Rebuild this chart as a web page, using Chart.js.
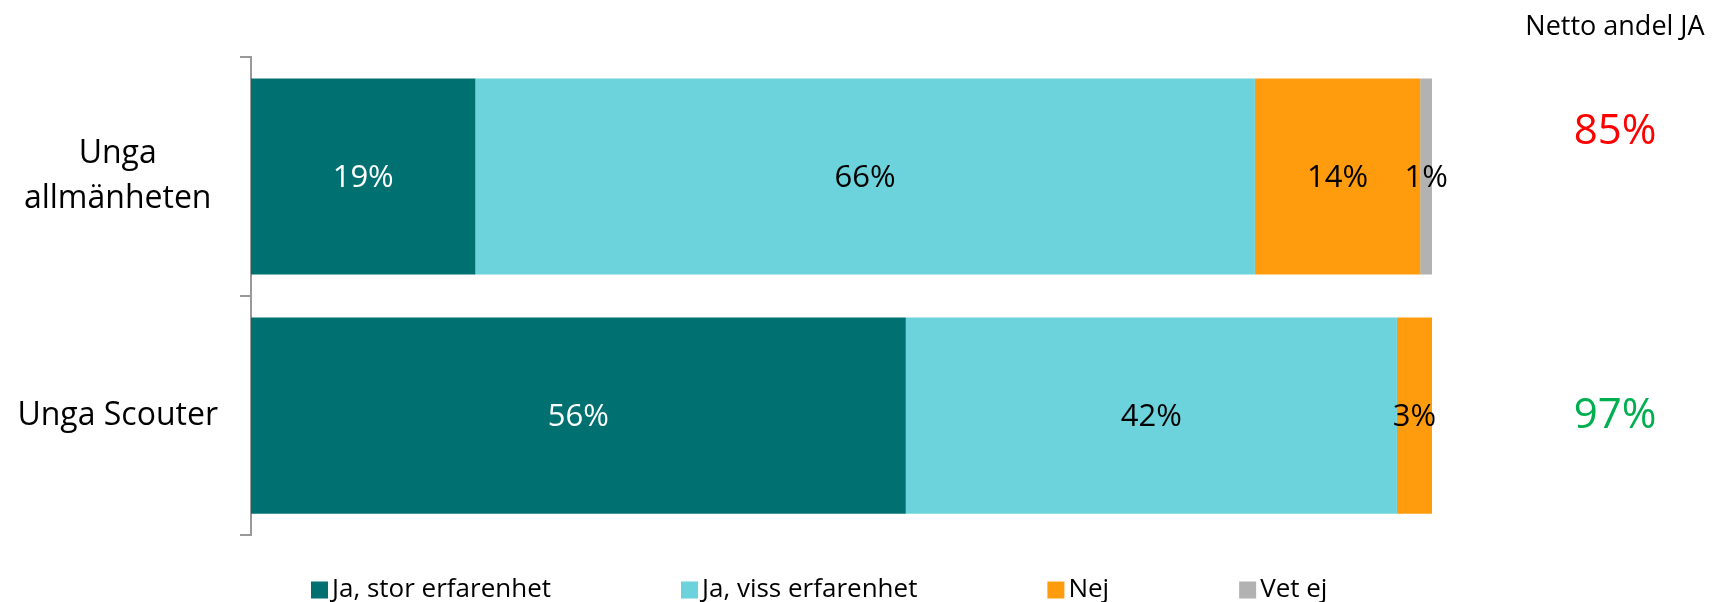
<!DOCTYPE html>
<html>
<head>
<meta charset="utf-8">
<script src="https://cdn.jsdelivr.net/npm/chart.js@4"></script>
<style>
  html, body { margin: 0; padding: 0; background: #fff; }
  #wrap { width: 1712px; height: 602px; position: relative; }
</style>
</head>
<body>
<div id="wrap"><canvas id="chart"></canvas></div>
<script>
const groups = [["Unga", "allmänheten"], "Unga Scouter"];
const answers = ["Ja, stor erfarenhet", "Ja, viss erfarenhet", "Nej", "Vet ej"];
const storErfarenhet = [19, 56];
const vissErfarenhet = [66, 42];
const nej = [14, 3];
const vetEj = [1, 0];
const nettoJa = [85, 97];
const nettoTitle = "Netto andel JA";

const colors = ["#007070", "#6CD2DC", "#FF9C0E", "#B2B2B2"];
const nettoColors = ["#FF0000", "#00B050"];
const FONT = "'Open Sans', sans-serif";

// 100% stacked: each bar is scaled to its own total
const series = [storErfarenhet, vissErfarenhet, nej, vetEj];
const totals = groups.map((g, j) => series.reduce((s, arr) => s + arr[j], 0));

const datasets = series.map((values, i) => ({
  label: answers[i],
  data: values.map((v, j) => v / totals[j] * 100),
  answerValues: values,
  backgroundColor: colors[i],
  borderWidth: 0,
  barPercentage: 0.82,
  categoryPercentage: 1,
}));

const segmentLabels = {
  id: "segmentLabels",
  afterDatasetsDraw(chart) {
    const ctx = chart.ctx;
    ctx.save();
    ctx.font = "31px " + FONT;
    ctx.textAlign = "center";
    ctx.textBaseline = "middle";
    chart.data.datasets.forEach((ds, i) => {
      chart.getDatasetMeta(i).data.forEach((bar, j) => {
        const v = ds.answerValues[j];
        if (!v) return;
        const p = bar.getCenterPoint();
        ctx.fillStyle = i === 0 ? "#fff" : "#000";
        ctx.fillText(v + "%", p.x, p.y + 2);
      });
    });
    ctx.restore();
  }
};

const nettoColumn = {
  id: "nettoColumn",
  afterDraw(chart) {
    const ctx = chart.ctx;
    const yScale = chart.scales.y;
    const cx = chart.chartArea.right + 183;
    ctx.save();
    ctx.textAlign = "center";
    ctx.textBaseline = "middle";
    ctx.fillStyle = "#000";
    ctx.font = "27px " + FONT;
    ctx.fillText(nettoTitle, cx, 27);
    ctx.font = "42px " + FONT;
    nettoJa.forEach((v, j) => {
      const lift = j === 0 ? 45 : 0;
      ctx.fillStyle = nettoColors[j];
      ctx.fillText(v + "%", cx, yScale.getPixelForValue(j) - lift);
    });
    ctx.restore();
  }
};

const bottomLegend = {
  id: "bottomLegend",
  afterDraw(chart) {
    const ctx = chart.ctx;
    const box = 17, gap = 4, spacing = 130;
    const y = 590;
    let x = chart.chartArea.left + 60;
    ctx.save();
    ctx.font = "26px " + FONT;
    ctx.textAlign = "left";
    ctx.textBaseline = "middle";
    chart.data.datasets.forEach((ds) => {
      ctx.fillStyle = ds.backgroundColor;
      ctx.fillRect(x, y - box / 2, box, box);
      ctx.fillStyle = "#000";
      ctx.fillText(ds.label, x + box + gap, y);
      x += box + gap + ctx.measureText(ds.label).width + spacing;
    });
    ctx.restore();
  }
};

function createChart() {
  const config = {
    type: "bar",
    data: { labels: groups, datasets: datasets },
    options: {
      indexAxis: "y",
      responsive: true,
      maintainAspectRatio: false,
      animation: false,
      layout: { padding: { top: 57, bottom: 62, right: 280, left: 0 } },
      scales: {
        x: { stacked: true, min: 0, max: 100, display: false },
        y: {
          stacked: true,
          grid: { offset: true, drawOnChartArea: false, drawTicks: true, tickLength: 11, color: "#999", lineWidth: 2 },
          border: { display: true, color: "#999", width: 2 },
          ticks: {
            color: "#000",
            font: { family: FONT, size: 32, lineHeight: 1.4 },
            crossAlign: "center",
            padding: 22,
          },
          afterFit: (scale) => { scale.width = 251; },
        },
      },
      plugins: {
        legend: { display: false },
        tooltip: { enabled: false },
      },
    },
    plugins: [segmentLabels, nettoColumn, bottomLegend],
  };
  new Chart(document.getElementById("chart"), config);
}

document.addEventListener("DOMContentLoaded", () => {
  createChart();
});
</script>
</body>
</html>
